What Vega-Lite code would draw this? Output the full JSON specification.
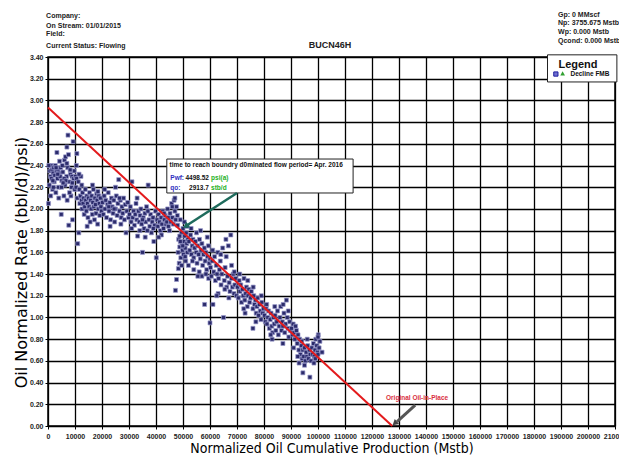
{
"$schema":"https://vega.github.io/schema/vega-lite/v6.json",
"width":567,"height":369,
"autosize":{"type":"none"},
"padding":{"left":48,"top":57,"right":4,"bottom":29},
"background":"white",
"config":{"view":{"stroke":"#000","strokeWidth":1.5}},
"datasets":{
"pts":[
{"x":200,"y":2.05},{"x":500,"y":2.22},{"x":700,"y":2.35},{"x":900,"y":2.3},{"x":1100,"y":2.4},{"x":1300,"y":2.28},{"x":1500,"y":2.36},{"x":1700,"y":2.18},{"x":1900,"y":2.33},{"x":2100,"y":2.38},{"x":2300,"y":2.25},{"x":2500,"y":2.31},{"x":2700,"y":2.4},{"x":2900,"y":2.15},{"x":3100,"y":2.35},{"x":3300,"y":2.52},{"x":3500,"y":2.28},{"x":3700,"y":2.36},{"x":3900,"y":2.2},{"x":4100,"y":2.33},{"x":4300,"y":2.44},{"x":4500,"y":2.3},{"x":4700,"y":2.38},{"x":4900,"y":1.95},{"x":5100,"y":2.26},{"x":5300,"y":2.4},{"x":5500,"y":2.34},{"x":7000,"y":2.57},{"x":5900,"y":2.12},{"x":6100,"y":2.45},{"x":6300,"y":2.22},{"x":6500,"y":2.48},{"x":7400,"y":2.68},{"x":6900,"y":2.3},{"x":7100,"y":2.08},{"x":7300,"y":2.38},{"x":7600,"y":2.5},{"x":7700,"y":1.85},{"x":7900,"y":2.25},{"x":9300,"y":2.62},{"x":8300,"y":2.32},{"x":8500,"y":2.12},{"x":8700,"y":2.2},{"x":8900,"y":2.3},{"x":9100,"y":1.9},{"x":9500,"y":2.28},{"x":9700,"y":2.35},{"x":9900,"y":2.18},{"x":2000,"y":2.2},{"x":4000,"y":2.1},{"x":6000,"y":2.28},{"x":8000,"y":2.15},{"x":3000,"y":2.38},{"x":5000,"y":2.2},{"x":7000,"y":2.42},{"x":1000,"y":2.12},{"x":9000,"y":2.24},{"x":10700,"y":2.51},{"x":300,"y":2.4},{"x":6600,"y":2.26},{"x":1800,"y":2.26},{"x":3600,"y":2.32},{"x":5600,"y":2.24},{"x":8200,"y":2.36},
{"x":10200,"y":2.3},{"x":10400,"y":2.2},{"x":10600,"y":2.28},{"x":10800,"y":2.1},{"x":11000,"y":1.68},{"x":11200,"y":2.25},{"x":11400,"y":1.78},{"x":11600,"y":2.18},{"x":11800,"y":2.05},{"x":12000,"y":2.12},{"x":12200,"y":2.3},{"x":12400,"y":2.08},{"x":12600,"y":2.0},{"x":12800,"y":2.15},{"x":13000,"y":2.05},{"x":13200,"y":2.1},{"x":13400,"y":1.95},{"x":13600,"y":2.02},{"x":13800,"y":2.18},{"x":14000,"y":2.08},{"x":14200,"y":1.98},{"x":14400,"y":2.12},{"x":14600,"y":2.05},{"x":14800,"y":1.92},{"x":15000,"y":2.1},{"x":15200,"y":2.02},{"x":15400,"y":2.15},{"x":15600,"y":1.88},{"x":15800,"y":2.08},{"x":16000,"y":2.0},{"x":16200,"y":2.12},{"x":16400,"y":1.95},{"x":16600,"y":2.06},{"x":16800,"y":2.18},{"x":17000,"y":2.02},{"x":17200,"y":1.9},{"x":17400,"y":2.1},{"x":17600,"y":2.04},{"x":17800,"y":1.96},{"x":18000,"y":2.14},{"x":18200,"y":2.08},{"x":18400,"y":1.86},{"x":18600,"y":2.0},{"x":18800,"y":2.12},{"x":19000,"y":2.05},{"x":19200,"y":1.94},{"x":19400,"y":2.1},{"x":19600,"y":2.02},{"x":19800,"y":1.98},{"x":10500,"y":2.4},{"x":12500,"y":2.22},{"x":14500,"y":1.84},{"x":16500,"y":2.22},{"x":18500,"y":2.16},{"x":11500,"y":2.32},
{"x":20200,"y":2.06},{"x":20500,"y":1.95},{"x":20800,"y":2.12},{"x":21100,"y":2.0},{"x":21400,"y":2.08},{"x":21700,"y":1.92},{"x":22000,"y":2.04},{"x":22300,"y":2.15},{"x":22600,"y":1.98},{"x":22900,"y":2.06},{"x":23200,"y":1.9},{"x":23500,"y":2.1},{"x":23800,"y":2.02},{"x":24100,"y":1.96},{"x":24400,"y":2.08},{"x":24700,"y":1.88},{"x":25000,"y":2.0},{"x":25300,"y":2.12},{"x":25600,"y":1.94},{"x":25900,"y":2.05},{"x":26200,"y":2.27},{"x":26500,"y":1.98},{"x":26800,"y":2.08},{"x":27100,"y":1.92},{"x":27400,"y":2.02},{"x":27700,"y":1.96},{"x":28000,"y":2.1},{"x":28300,"y":1.9},{"x":28600,"y":2.04},{"x":28900,"y":1.78},{"x":29200,"y":1.98},{"x":29500,"y":2.06},{"x":29800,"y":1.92},{"x":21000,"y":2.18},{"x":23000,"y":1.84},{"x":25000,"y":2.2},{"x":27000,"y":1.86},{"x":22500,"y":2.02},{"x":24500,"y":2.0},{"x":26500,"y":2.1},
{"x":30200,"y":1.95},{"x":30500,"y":2.02},{"x":30800,"y":1.88},{"x":31100,"y":2.25},{"x":31400,"y":1.92},{"x":31700,"y":1.98},{"x":32000,"y":1.85},{"x":32300,"y":1.95},{"x":32600,"y":2.05},{"x":32900,"y":1.9},{"x":33200,"y":1.75},{"x":33500,"y":1.98},{"x":33800,"y":1.88},{"x":34100,"y":1.94},{"x":34400,"y":2.0},{"x":34700,"y":1.86},{"x":35000,"y":1.6},{"x":35300,"y":1.92},{"x":35600,"y":1.82},{"x":35900,"y":1.96},{"x":36200,"y":1.88},{"x":36500,"y":2.02},{"x":36800,"y":1.8},{"x":37100,"y":2.22},{"x":37400,"y":1.9},{"x":37700,"y":1.84},{"x":38000,"y":1.95},{"x":38300,"y":1.78},{"x":38600,"y":1.88},{"x":38900,"y":1.92},{"x":39200,"y":1.7},{"x":39500,"y":1.85},{"x":39800,"y":1.98},{"x":40100,"y":1.55},{"x":31000,"y":1.82},{"x":33000,"y":2.1},{"x":35000,"y":1.9},{"x":37000,"y":1.98},{"x":39000,"y":1.82},{"x":34000,"y":1.8},{"x":36000,"y":1.74},
{"x":40400,"y":1.9},{"x":40700,"y":1.84},{"x":41000,"y":1.95},{"x":41300,"y":1.88},{"x":41600,"y":1.8},{"x":41900,"y":1.92},{"x":42200,"y":1.86},{"x":42500,"y":1.98},{"x":42800,"y":1.82},{"x":43100,"y":1.9},{"x":43400,"y":1.94},{"x":43700,"y":1.86},{"x":44000,"y":1.88},{"x":44300,"y":2.0},{"x":44600,"y":1.84},{"x":44900,"y":1.92},{"x":45200,"y":1.96},{"x":45500,"y":1.88},{"x":45800,"y":2.05},{"x":46100,"y":1.92},{"x":46400,"y":1.86},{"x":46700,"y":2.08},{"x":47000,"y":1.98},{"x":47300,"y":1.9},{"x":47600,"y":2.02},{"x":47900,"y":1.94},{"x":42000,"y":1.76},{"x":43000,"y":1.96},{"x":45000,"y":1.8},{"x":46000,"y":2.02},{"x":47000,"y":2.1},{"x":44500,"y":1.92},{"x":41000,"y":1.74},
{"x":48000,"y":1.85},{"x":48200,"y":1.6},{"x":48400,"y":1.72},{"x":48600,"y":1.5},{"x":48800,"y":1.65},{"x":49000,"y":1.9},{"x":49200,"y":1.55},{"x":49400,"y":1.78},{"x":49600,"y":1.68},{"x":49800,"y":1.62},{"x":50000,"y":1.82},{"x":50200,"y":1.58},{"x":50400,"y":1.7},{"x":50600,"y":1.75},{"x":50800,"y":1.64},{"x":51000,"y":1.52},{"x":51200,"y":1.78},{"x":51400,"y":1.68},{"x":51600,"y":1.6},{"x":51800,"y":1.72},{"x":47200,"y":1.25},{"x":47600,"y":1.35},{"x":48300,"y":1.45},{"x":49500,"y":1.48},{"x":50500,"y":1.88},{"x":51500,"y":1.84},{"x":48800,"y":1.75},{"x":49900,"y":1.66},{"x":49000,"y":1.7},{"x":50800,"y":1.56},
{"x":52200,"y":1.7},{"x":52500,"y":1.62},{"x":52800,"y":1.76},{"x":53100,"y":1.58},{"x":53400,"y":1.66},{"x":53700,"y":1.72},{"x":54000,"y":1.55},{"x":54300,"y":1.64},{"x":54600,"y":1.7},{"x":54900,"y":1.6},{"x":55200,"y":1.5},{"x":55500,"y":1.66},{"x":55800,"y":1.58},{"x":56100,"y":1.72},{"x":56400,"y":1.54},{"x":56700,"y":1.62},{"x":57000,"y":1.68},{"x":57300,"y":1.48},{"x":57600,"y":1.58},{"x":57900,"y":1.64},{"x":58200,"y":1.52},{"x":58500,"y":1.6},{"x":58800,"y":1.44},{"x":59100,"y":1.56},{"x":59400,"y":1.66},{"x":59700,"y":1.5},{"x":52000,"y":1.48},{"x":53000,"y":1.82},{"x":54000,"y":1.44},{"x":55000,"y":1.78},{"x":56000,"y":1.42},{"x":57000,"y":1.38},{"x":58000,"y":1.12},{"x":59000,"y":1.74},{"x":60000,"y":1.54},{"x":55500,"y":1.38},{"x":53500,"y":1.52},{"x":56500,"y":1.8},{"x":58500,"y":1.4},{"x":59500,"y":1.36},
{"x":60200,"y":1.46},{"x":60500,"y":1.38},{"x":60800,"y":1.52},{"x":61100,"y":1.12},{"x":61400,"y":1.42},{"x":61700,"y":1.56},{"x":62000,"y":1.34},{"x":62300,"y":1.48},{"x":62600,"y":1.4},{"x":62900,"y":1.6},{"x":63200,"y":1.36},{"x":63500,"y":1.44},{"x":63800,"y":1.52},{"x":64100,"y":1.3},{"x":64400,"y":1.4},{"x":64700,"y":1.64},{"x":65000,"y":1.0},{"x":65300,"y":1.34},{"x":65600,"y":1.46},{"x":65900,"y":1.72},{"x":66200,"y":1.28},{"x":66500,"y":1.38},{"x":66800,"y":1.66},{"x":67100,"y":1.32},{"x":67400,"y":1.24},{"x":67700,"y":1.76},{"x":68000,"y":1.36},{"x":68300,"y":1.28},{"x":68600,"y":1.4},{"x":68900,"y":1.22},{"x":69200,"y":1.3},{"x":69500,"y":1.36},{"x":69800,"y":1.2},{"x":60000,"y":0.95},{"x":61000,"y":1.62},{"x":63000,"y":1.22},{"x":64000,"y":1.58},{"x":66000,"y":1.56},{"x":67000,"y":1.18},{"x":68000,"y":1.48},{"x":69000,"y":1.42},{"x":62500,"y":1.2},{"x":65500,"y":1.26},
{"x":70200,"y":1.28},{"x":70500,"y":1.18},{"x":70800,"y":1.34},{"x":71100,"y":1.24},{"x":71400,"y":1.3},{"x":71700,"y":1.14},{"x":72000,"y":1.26},{"x":72300,"y":1.2},{"x":72600,"y":1.36},{"x":72900,"y":1.16},{"x":73200,"y":1.22},{"x":73500,"y":1.28},{"x":73800,"y":1.1},{"x":74100,"y":1.2},{"x":74400,"y":1.26},{"x":74700,"y":1.14},{"x":75000,"y":1.18},{"x":75300,"y":1.24},{"x":75900,"y":0.9},{"x":75900,"y":1.08},{"x":76200,"y":1.2},{"x":76500,"y":1.12},{"x":76800,"y":1.16},{"x":77100,"y":1.04},{"x":77400,"y":1.1},{"x":77700,"y":1.18},{"x":78000,"y":1.02},{"x":78300,"y":1.12},{"x":78600,"y":1.06},{"x":78900,"y":0.98},{"x":79200,"y":1.14},{"x":79500,"y":1.04},{"x":79800,"y":1.08},{"x":71000,"y":1.4},{"x":73000,"y":1.04},{"x":74000,"y":1.34},{"x":76000,"y":1.28},{"x":77000,"y":0.96},{"x":79000,"y":1.2},{"x":72500,"y":1.08},
{"x":80200,"y":1.02},{"x":80500,"y":0.96},{"x":80800,"y":1.08},{"x":81100,"y":0.94},{"x":81400,"y":1.0},{"x":81700,"y":1.06},{"x":82000,"y":0.9},{"x":82300,"y":0.98},{"x":82600,"y":1.04},{"x":82900,"y":0.92},{"x":83200,"y":0.86},{"x":83500,"y":1.0},{"x":83800,"y":0.94},{"x":84100,"y":1.02},{"x":84400,"y":0.88},{"x":84700,"y":0.96},{"x":85000,"y":1.06},{"x":85300,"y":0.84},{"x":85600,"y":0.92},{"x":85900,"y":1.0},{"x":86200,"y":1.1},{"x":86500,"y":0.88},{"x":86800,"y":0.96},{"x":87100,"y":1.12},{"x":87400,"y":1.04},{"x":87700,"y":0.86},{"x":88000,"y":0.94},{"x":88300,"y":1.16},{"x":88600,"y":1.0},{"x":88900,"y":0.9},{"x":89200,"y":0.82},{"x":89500,"y":0.96},{"x":89800,"y":0.88},{"x":81000,"y":1.12},{"x":83000,"y":0.8},{"x":84000,"y":1.1},{"x":87000,"y":0.76},{"x":87000,"y":0.92},{"x":89000,"y":1.06},{"x":82500,"y":0.84},
{"x":90200,"y":0.9},{"x":90500,"y":0.84},{"x":90800,"y":0.94},{"x":91100,"y":0.86},{"x":91400,"y":0.8},{"x":91700,"y":0.92},{"x":92000,"y":0.88},{"x":92300,"y":0.76},{"x":92600,"y":0.84},{"x":92900,"y":0.7},{"x":93200,"y":0.8},{"x":93500,"y":0.66},{"x":93800,"y":0.74},{"x":94100,"y":0.62},{"x":94400,"y":0.7},{"x":94700,"y":0.64},{"x":95000,"y":0.72},{"x":95300,"y":0.6},{"x":95600,"y":0.68},{"x":95900,"y":0.64},{"x":96200,"y":0.74},{"x":96500,"y":0.62},{"x":96800,"y":0.7},{"x":97100,"y":0.66},{"x":97400,"y":0.6},{"x":97700,"y":0.72},{"x":98000,"y":0.66},{"x":98300,"y":0.76},{"x":98600,"y":0.64},{"x":98900,"y":0.7},{"x":99200,"y":0.8},{"x":99500,"y":0.74},{"x":99800,"y":0.68},{"x":100100,"y":0.84},{"x":100400,"y":0.72},{"x":100700,"y":0.78},{"x":94400,"y":0.49},{"x":97000,"y":0.45},{"x":93000,"y":0.58},{"x":95000,"y":0.56},{"x":96000,"y":0.8},{"x":98500,"y":0.58},{"x":92500,"y":0.64},{"x":100000,"y":0.66},{"x":99000,"y":0.62},{"x":94000,"y":0.78},{"x":91000,"y":0.72},{"x":101500,"y":0.68},{"x":100000,"y":0.82}
]
},
"encoding":{
"x":{"field":"x","type":"quantitative","scale":{"domain":[0,210000],"nice":false,"zero":false},
"axis":{"title":"Normalized Oil Cumulative Production (Mstb)","values":[0,10000,20000,30000,40000,50000,60000,70000,80000,90000,100000,110000,120000,130000,140000,150000,160000,170000,180000,190000,200000,210000],"format":"d","labelFont":"Liberation Sans","labelFontSize":7,"labelFontWeight":"bold","labelColor":"#222","grid":true,"gridColor":"#000","gridWidth":1.3,"domain":false,"tickColor":"#000","tickSize":3,"labelPadding":3,"labelFlush":false,"labelOverlap":false,"titleFont":"DejaVu Sans Condensed","titleFontSize":14,"titleFontWeight":"normal","titleColor":"#000","titlePadding":2}},
"y":{"field":"y","type":"quantitative","scale":{"domain":[0,3.4],"nice":false,"zero":false},
"axis":{"title":"Oil Normalized Rate (bbl/d)/psi)","values":[0,0.2,0.4,0.6,0.8,1,1.2,1.4,1.6,1.8,2,2.2,2.4,2.6,2.8,3,3.2,3.4],"format":".2f","labelFont":"Liberation Sans","labelFontSize":7,"labelFontWeight":"bold","labelColor":"#222","grid":true,"gridColor":"#000","gridWidth":1.3,"domain":false,"tickColor":"#000","tickSize":3,"labelPadding":2,"labelFlush":false,"labelOverlap":false,"titleFont":"DejaVu Sans","titleFontSize":16,"titleFontWeight":"normal","titleColor":"#000","titleY":205,"titleX":-27,"titleBaseline":"middle"}}
},
"layer":[
{"data":{"name":"pts"},"mark":{"type":"square","size":16,"color":"#2b2b6b","stroke":"#9a9acc","strokeWidth":0.7,"opacity":1}},
{"data":{"values":[{"x":0,"y":2.935},{"x":127500,"y":0}]},"mark":{"type":"line","color":"#e31a1c","strokeWidth":2}},
{"data":{"values":[{"x":44000,"x2":113000,"y":2.46,"y2":2.147}]},"mark":{"type":"rect","fill":"white","stroke":"#222","strokeWidth":1},"encoding":{"x2":{"field":"x2"},"y2":{"field":"y2"}}},
{"data":{"values":[{"x":45000,"y":2.405,"t":"time to reach boundry d0minated flow period= Apr. 2016"}]},"mark":{"type":"text","align":"left","baseline":"middle","font":"Liberation Sans","fontSize":6.5,"fontWeight":"bold","color":"#111"},"encoding":{"text":{"field":"t"}}},
{"data":{"values":[{"x":45300,"y":2.285,"t":"Pwf:"},{"x":45300,"y":2.193,"t":"qo:"}]},"mark":{"type":"text","align":"left","baseline":"middle","font":"Liberation Sans","fontSize":6.5,"fontWeight":"bold","color":"#3030c0"},"encoding":{"text":{"field":"t"}}},
{"data":{"values":[{"x":59600,"y":2.285,"t":"4498.52"},{"x":59600,"y":2.193,"t":"2913.7"}]},"mark":{"type":"text","align":"right","baseline":"middle","font":"Liberation Sans","fontSize":6.5,"fontWeight":"bold","color":"#111"},"encoding":{"text":{"field":"t"}}},
{"data":{"values":[{"x":60400,"y":2.285,"t":"psi(a)"},{"x":60400,"y":2.193,"t":"stb/d"}]},"mark":{"type":"text","align":"left","baseline":"middle","font":"Liberation Sans","fontSize":6.5,"fontWeight":"bold","color":"#22b022"},"encoding":{"text":{"field":"t"}}},
{"data":{"values":[{"x":70000,"y":2.147,"x2":51500,"y2":1.85}]},"mark":{"type":"rule","color":"#1e6b5c","strokeWidth":2.5},"encoding":{"x2":{"field":"x2"},"y2":{"field":"y2"}}},
{"data":{"values":[{"x":51300,"y":1.845}]},"mark":{"type":"point","shape":"triangle","filled":true,"size":50,"angle":237,"color":"#1e6b5c","opacity":1}},
{"data":{"values":[{"x":136000,"y":0.193,"x2":129300,"y2":0.04}]},"mark":{"type":"rule","color":"#555","strokeWidth":3},"encoding":{"x2":{"field":"x2"},"y2":{"field":"y2"}}},
{"data":{"values":[{"x":128700,"y":0.03}]},"mark":{"type":"point","shape":"triangle","filled":true,"size":45,"angle":229,"color":"#444","opacity":1}},
{"data":{"values":[{"x":136700,"y":0.258,"t":"Original Oil-in-Place"}]},"mark":{"type":"text","align":"center","baseline":"middle","font":"Liberation Sans","fontSize":6.5,"fontWeight":"bold","color":"#d9303e"},"encoding":{"text":{"field":"t"}}},
{"data":{"values":[{"x":185000,"x2":210700,"y":3.42,"y2":3.17}]},"mark":{"type":"rect","fill":"white","stroke":"#222","strokeWidth":1},"encoding":{"x2":{"field":"x2"},"y2":{"field":"y2"}}},
{"data":{"values":[{"x":196300,"y":3.33,"t":"Legend"}]},"mark":{"type":"text","align":"center","baseline":"middle","font":"Liberation Sans","fontSize":11,"fontWeight":"bold","color":"#111"},"encoding":{"text":{"field":"t"}}},
{"data":{"values":[{"x":193500,"y":3.243,"t":"Decline FMB"}]},"mark":{"type":"text","align":"left","baseline":"middle","font":"Liberation Sans","fontSize":6.5,"fontWeight":"bold","color":"#111"},"encoding":{"text":{"field":"t"}}},
{"data":{"values":[{"x":188100,"y":3.243}]},"mark":{"type":"square","size":18,"color":"#7070d0","stroke":"#2020a0","strokeWidth":1,"opacity":1}},
{"data":{"values":[{"x":190600,"y":3.243}]},"mark":{"type":"point","shape":"triangle","filled":true,"size":22,"color":"#30a030","opacity":1}},
{"data":{"values":[{"x":-700,"y":3.78,"t":"Company:"},{"x":-700,"y":3.688,"t":"On Stream: 01/01/2015"},{"x":-700,"y":3.609,"t":"Field:"},{"x":-700,"y":3.501,"t":"Current Status: Flowing"},{"x":188900,"y":3.787,"t":"Gp: 0 MMscf"},{"x":188900,"y":3.71,"t":"Np: 3755.675 Mstb"},{"x":188900,"y":3.628,"t":"Wp: 0.000 Mstb"},{"x":188900,"y":3.547,"t":"Qcond: 0.000 Mstb"}]},"mark":{"type":"text","align":"left","baseline":"middle","font":"Liberation Sans","fontSize":7,"fontWeight":"bold","color":"#222"},"encoding":{"text":{"field":"t"}}},
{"data":{"values":[{"x":104400,"y":3.51,"t":"BUCN46H"}]},"mark":{"type":"text","align":"center","baseline":"middle","font":"Liberation Sans","fontSize":9,"fontWeight":"bold","color":"#222"},"encoding":{"text":{"field":"t"}}}
]
}
